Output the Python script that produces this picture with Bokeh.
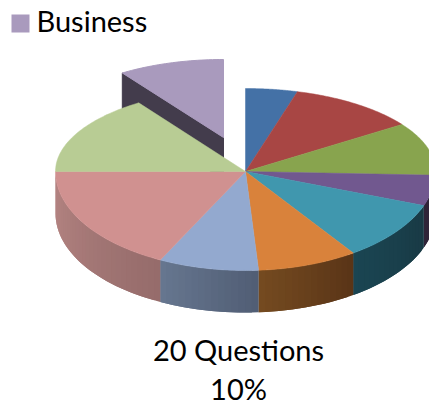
import numpy as np
from bokeh.plotting import figure
from bokeh.models import ColumnDataSource
from bokeh.core.properties import value
from bokeh.embed import file_html
from bokeh.resources import INLINE

categories = ["A", "B", "C", "D", "E", "F", "20 Questions", "G", "H", "Business"]
shares = [4.4, 11.0, 10.2, 5.0, 9.8, 8.5, 8.5, 17.6, 15.5, 9.5]
top_colors = ["#4471a6", "#a84644", "#88a44e", "#71588f", "#4097ae", "#d9823b",
              "#93a9cf", "#d09190", "#b8cc94", "#a99abd"]
wall_start = ["#2d4a6d", "#6e2e2c", "#596b33", "#2f2438", "#1a4552", "#744a20",
              "#66768f", "#b58583", "#7d8b65", "#433c4c"]
wall_end = ["#2d4a6d", "#6e2e2c", "#596b33", "#2f2438", "#193a45", "#5a3517",
            "#515e75", "#966c6b", "#7d8b65", "#433c4c"]
legend_label = "Business"
callout_lines = ["20 Questions", "10%"]

CX, CY, RX, RY_TOP, RY_BOT, DEPTH = 245, 171, 190, 83, 99, 42
EX_CX, EX_CY, EX_RX, EX_RY = 223, 137, 180, 78


def rgb(h):
    return np.array([int(h[i:i + 2], 16) for i in (1, 3, 5)], float)


def mix(a, b, t):
    c = rgb(a) * (1 - t) + rgb(b) * t
    return "#%02x%02x%02x" % tuple(int(round(v)) for v in c)


def rim(deg, cx=CX, cy=CY, rx=RX, ry_top=RY_TOP, ry_bot=RY_BOT):
    t = np.radians(deg)
    x = cx + rx * np.sin(t)
    c = np.cos(t)
    y = cy - np.where(c >= 0, ry_top, ry_bot) * c
    return x, y


edges = np.cumsum([0] + shares)
edges = edges / edges[-1] * 360

p = figure(width=429, height=406, x_range=(0, 429), y_range=(406, 0),
           output_backend="svg", toolbar_location=None, min_border=0,
           outline_line_color=None, background_fill_color="white")
p.axis.visible = False
p.grid.visible = False

# exploded slice: inner wall, then top
a0, a1 = edges[-2], edges[-1]
ang = np.linspace(a0, a1, 30)
ex, ey = rim(ang, EX_CX, EX_CY, EX_RX, EX_RY, EX_RY)
rx0, ry0 = ex[0], ey[0]
p.patch([rx0, EX_CX, EX_CX, rx0], [ry0, EX_CY, EX_CY + DEPTH, ry0 + DEPTH],
        fill_color=wall_start[-1], line_color=wall_start[-1])
p.patch(list(ex) + [EX_CX], list(ey) + [EX_CY], fill_color=top_colors[-1], line_color=top_colors[-1])

# walls of the front half, in overlapping strips to carry the shading
wx, wy, wc = [], [], []
for i in range(len(shares) - 1):
    lo, hi = max(edges[i], 90), min(edges[i + 1], 270)
    if hi <= lo:
        continue
    n = max(2, int((hi - lo) / 2))
    steps = np.linspace(lo, hi, n + 1)
    for j in range(n):
        x0, y0 = rim(steps[j])
        x1, y1 = rim(steps[min(j + 2, n)])
        xm, ym = rim(steps[j + 1])
        wx.append([float(x0), float(xm), float(x1), float(x1), float(xm), float(x0)])
        wy.append([float(y0), float(ym), float(y1), float(y1) + DEPTH, float(ym) + DEPTH, float(y0) + DEPTH])
        wc.append(mix(wall_end[i], wall_start[i], j / max(n - 1, 1)))
p.patches("x", "y", source=ColumnDataSource(dict(x=wx, y=wy, c=wc)), fill_color="c", line_color=None)

# top faces
for i in range(len(shares) - 1):
    ang = np.linspace(edges[i], edges[i + 1], 60)
    x, y = rim(ang)
    p.patch(list(x) + [CX], list(y) + [CY], fill_color=top_colors[i], line_color=top_colors[i], line_width=0.5)

# legend entry
p.scatter([20], [23], marker="square", size=18, fill_color=top_colors[-1], line_color=None)
p.text([36], [20], text=[legend_label], text_font=value("Lato"), text_font_size="29px",
       text_baseline="middle", text_align="left", text_color="black")

# callout
p.text([238, 238], [349, 388], text=callout_lines, text_font=value("Lato"), text_font_size="29px",
       text_baseline="middle", text_align="center", text_color="black")

open("out.html", "w").write(file_html(p, INLINE))
